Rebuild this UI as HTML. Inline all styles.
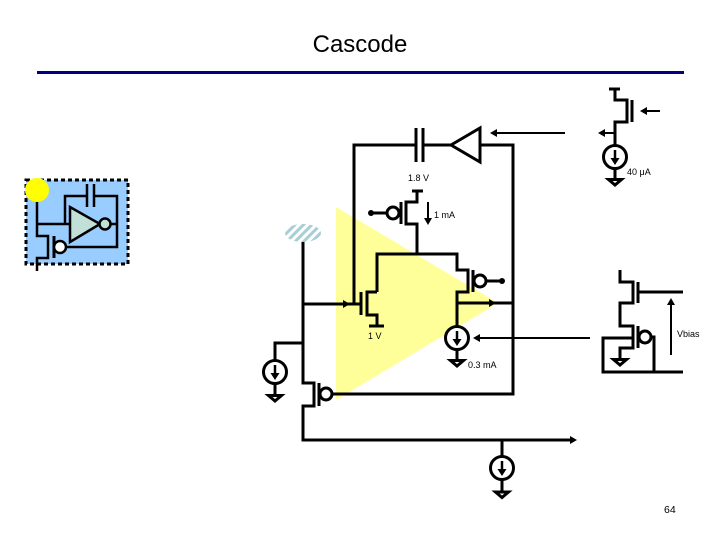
<!DOCTYPE html>
<html><head><meta charset="utf-8"><style>html,body{margin:0;padding:0;background:#fff}svg{display:block}text{font-family:"Liberation Sans",sans-serif;fill:#000}</style></head><body>
<svg width="720" height="540" viewBox="0 0 720 540" xmlns="http://www.w3.org/2000/svg">
<defs>
<pattern id="h" width="6" height="6" patternUnits="userSpaceOnUse" patternTransform="rotate(45)"><rect width="6" height="6" fill="#fff"/><rect width="3" height="6" fill="#a9cfd6"/></pattern>
<g id="g"><path d="M-6.5 0H6.5L0 5.5Z" fill="#fff" stroke="#000" stroke-width="3" stroke-linejoin="miter"/></g>
<g id="cs"><circle r="11.5" fill="#fff" stroke="#000" stroke-width="3"/><path d="M0 -7V2" stroke="#000" stroke-width="2.5" fill="none"/><path d="M-4.5 1H4.5L0 8Z" fill="#000"/></g>
</defs>
<text x="360" y="52" font-size="24" text-anchor="middle">Cascode</text>
<rect x="37" y="71" width="647" height="3" fill="#000080"/>

<polygon points="336,207 498,303 336,400" fill="#ffff99"/>
<ellipse cx="303" cy="233" rx="18" ry="9" fill="url(#h)"/>

<rect x="26" y="180" width="102" height="84" fill="#99ccff" stroke="#000" stroke-width="3" stroke-dasharray="4 3"/>
<g fill="none" stroke="#000" stroke-width="2.5">
<path d="M37 190V236H48V258H37V271"/>
<path d="M37 224H70M65 224V196H87M94 196H117V247H65M111 224H117"/>
<path d="M87 184V207M94 184V207"/>
<path d="M54 236V258" stroke-width="3"/>
<polygon points="70,207 70,242 100,224" fill="#c0e0d8"/>
<circle cx="105" cy="224" r="5.5" fill="#c0e0d8"/>
<circle cx="60" cy="247" r="6" fill="#fff"/>
</g>
<circle cx="37" cy="190" r="12" fill="#ffff00"/>

<g fill="none" stroke="#000" stroke-width="3">
<path d="M354 304V145H416M423 145H451M480 145H513V394H332"/>
<path d="M416 128V162M423 128V162"/>
<polygon points="451,145 480,128 480,162"/>
<path d="M412 191H423M417 191V202H406V224H417V254"/>
<path d="M401 202V224"/>
<circle cx="393" cy="213" r="6" fill="#fff"/>
<path d="M371 213H387"/>
<path d="M377 292V254H457V270H468V292H457V327"/>
<path d="M377 292H367V315H377V326M369 326H384"/>
<path d="M361 292V315"/>
<path d="M473 270V292"/>
<circle cx="480" cy="281" r="6"/>
<path d="M486 281H502"/>
<path d="M457 303H513"/>
<path d="M457 349V361"/>
<path d="M303 304H361"/>
<path d="M303 242V383H314V406H303V440H572"/>
<path d="M319 383V406"/>
<circle cx="326" cy="394" r="6" fill="#fff"/>
<path d="M303 343H275V361M275 383V395"/>
<path d="M502 440V457M502 479V492"/>
<path d="M609 89H620M615 89V100H627V122H615V146M615 168V179"/>
<path d="M632 100V122"/>
<path d="M620 270V282H633V303H620V326H633V348H620V359"/>
<path d="M638 282V303M638 326V348"/>
<path d="M638 292H683"/>
<circle cx="645" cy="337" r="6" fill="#fff"/>
<path d="M651 337H654V372M633 338H603V372H683"/>
</g>
<circle cx="371" cy="213" r="3" fill="#000"/>
<circle cx="502" cy="281" r="3" fill="#000"/>

<g stroke="#000" stroke-width="2" fill="none">
<path d="M565 133H494"/><path d="M590 338H477"/>
<path d="M660 111H644"/><path d="M615 133H602"/>
<path d="M428 202V220"/><path d="M671 355V303"/>
</g>
<g fill="#000">
<path d="M490 133L497 129V137Z"/><path d="M473 338L480 334V342Z"/>
<path d="M640 111L647 107V115Z"/><path d="M598 133L605 129V137Z"/>
<path d="M428 225L424 218H432Z"/><path d="M671 298L667 305H675Z"/>
<path d="M350 304L343 300V308Z"/><path d="M496 303L489 299V307Z"/>
<path d="M577 440L570 436V444Z"/>
</g>

<use href="#cs" x="457" y="338"/>
<use href="#cs" x="275" y="372"/>
<use href="#cs" x="502" y="468"/>
<use href="#cs" x="615" y="157"/>
<use href="#g" x="457" y="360.5"/>
<use href="#g" x="275" y="395.5"/>
<use href="#g" x="502" y="492"/>
<use href="#g" x="615" y="179.5"/>
<use href="#g" x="620" y="359.5"/>

<g font-size="9">
<text x="408" y="181">1.8 V</text>
<text x="434" y="218">1 mA</text>
<text x="627" y="175">40 μA</text>
<text x="368" y="339">1 V</text>
<text x="468" y="368">0.3 mA</text>
<text x="677" y="337">Vbias</text>
</g>
<text x="664" y="513" font-size="10.5">64</text>
</svg>
</body></html>
